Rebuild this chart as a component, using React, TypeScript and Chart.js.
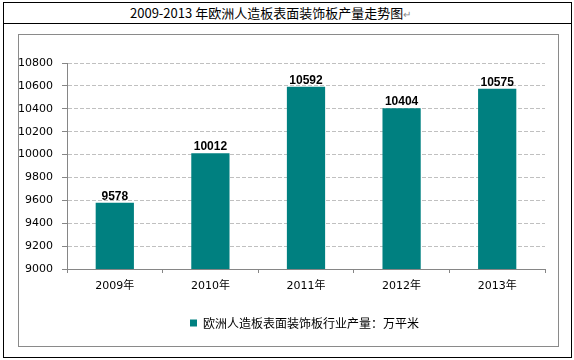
import React, { useEffect, useRef } from "react";
import { Chart, registerables } from "chart.js";

Chart.register(...registerables);

const titleText = "2009-2013 年欧洲人造板表面装饰板产量走势图";
const categories = ["2009年", "2010年", "2011年", "2012年", "2013年"];
const values = [9578, 10012, 10592, 10404, 10575];
const seriesLabel = "欧洲人造板表面装饰板行业产量：万平米";
const yMin = 9000;
const yMax = 10800;
const yStep = 200;

const valueLabels = {
  id: "valueLabels",
  afterDatasetsDraw(chart: any) {
    const ctx = chart.ctx;
    const meta = chart.getDatasetMeta(0);
    const data = chart.data.datasets[0].data;
    ctx.save();
    ctx.font = "bold 12px 'Liberation Sans', Arial, sans-serif";
    ctx.fillStyle = "#000";
    ctx.textAlign = "center";
    ctx.textBaseline = "alphabetic";
    meta.data.forEach((el: any, i: number) => {
      ctx.fillText(String(data[i]), el.x, el.y - 3);
    });
    ctx.restore();
  },
};

// Centre the legend under the plot area instead of the whole canvas
const legendShift = {
  id: "legendShift",
  afterLayout(chart: any) {
    if (chart.legend) {
      chart.legend.left = chart.chartArea.left - 3;
    }
  },
};

export default function App() {
  const canvasRef = useRef<HTMLCanvasElement | null>(null);

  useEffect(() => {
    if (!canvasRef.current) return;
    const chart = new Chart(canvasRef.current, {
      type: "bar",
      data: {
        labels: categories,
        datasets: [
          {
            label: seriesLabel,
            data: values,
            backgroundColor: "#008080",
            borderWidth: 0,
            barPercentage: 0.4,
            categoryPercentage: 1,
          },
        ],
      },
      options: {
        animation: false,
        responsive: false,
        maintainAspectRatio: false,
        layout: { padding: { left: 0, top: 63, right: 29, bottom: 21 } },
        plugins: {
          legend: {
            position: "bottom",
            labels: {
              boxWidth: 7,
              boxHeight: 7,
              padding: 10,
              color: "#000",
              font: { size: 12, family: "'Noto Sans CJK SC', sans-serif" },
            },
          },
          tooltip: { enabled: false },
          title: { display: false },
        },
        scales: {
          x: {
            grid: {
              drawOnChartArea: false,
              drawTicks: true,
              tickLength: 4,
              tickColor: "#868686",
              offset: true,
            },
            border: { color: "#868686", width: 1 },
            ticks: {
              color: "#000",
              font: { size: 11, family: "'DejaVu Sans', 'Noto Sans CJK SC', sans-serif" },
              padding: 7,
            },
            afterFit: (s: any) => {
              s.height = 38;
            },
          },
          y: {
            min: yMin,
            max: yMax,
            ticks: {
              stepSize: yStep,
              color: "#000",
              font: { size: 11, family: "'DejaVu Sans', sans-serif" },
              padding: 9,
              callback: (v: any) => String(v),
            },
            grid: {
              color: "#c0c0c0",
              tickColor: "#868686",
              tickLength: 5,
            },
            border: { color: "#868686", width: 1, dash: [4, 2] },
            afterFit: (s: any) => {
              s.width = 67;
            },
          },
        },
      },
      plugins: [valueLabels, legendShift],
    } as any);
    return () => chart.destroy();
  }, []);

  return (
    <div style={{ position: "absolute", left: 0, top: 0, width: 574, height: 360, background: "#fff" }}>
      <div
        style={{
          position: "absolute",
          left: 3,
          top: 2,
          width: 569,
          height: 356,
          border: "1px solid #000",
          boxSizing: "border-box",
        }}
      />
      <div style={{ position: "absolute", left: 3, top: 23, width: 569, height: 1, background: "#000" }} />
      <div
        style={{
          position: "absolute",
          left: 18,
          top: 34,
          width: 541,
          height: 313,
          border: "1px solid #8a8a8a",
          boxSizing: "border-box",
        }}
      />
      <div
        style={{
          position: "absolute",
          left: 130,
          top: 3,
          height: 20,
          lineHeight: "20px",
          fontSize: 13,
          fontFamily: "'Noto Sans CJK SC', sans-serif",
          color: "#000",
          whiteSpace: "nowrap",
        }}
      >
        {titleText}
        <span style={{ color: "#8a8a8a", fontSize: 10 }}>↵</span>
      </div>
      <canvas
        ref={canvasRef}
        width={574}
        height={360}
        style={{ position: "absolute", left: 0, top: 0, width: 574, height: 360, display: "block" }}
      />
    </div>
  );
}
